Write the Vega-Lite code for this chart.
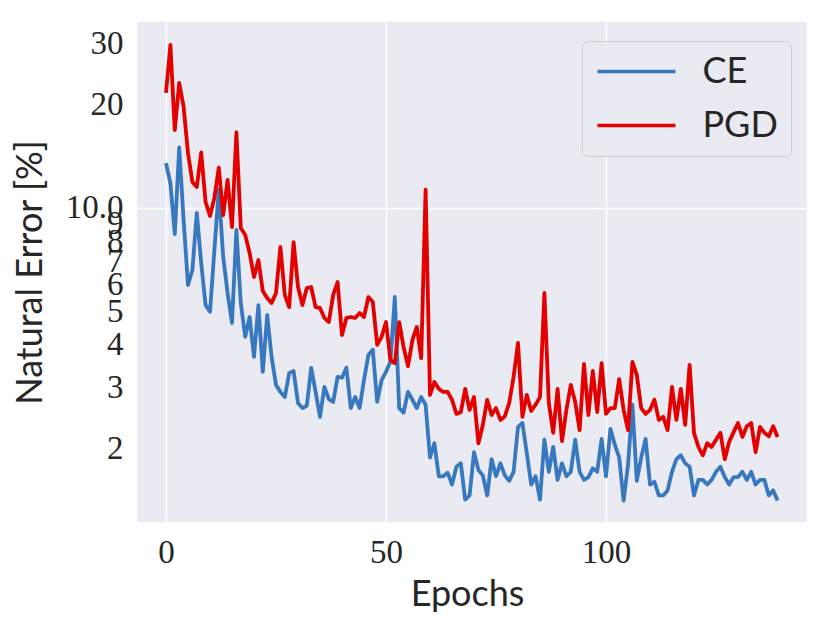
{
  "$schema": "https://vega.github.io/schema/vega-lite/v6.json",
  "width": 670,
  "height": 500,
  "autosize": {"type": "none"},
  "padding": {"left": 137, "top": 22, "right": 24, "bottom": 105},
  "background": "white",
  "data": {
    "values": [
      {"epoch": 0, "CE": 13.5, "PGD": 21.6},
      {"epoch": 1, "CE": 11.8, "PGD": 29.8},
      {"epoch": 2, "CE": 8.4, "PGD": 16.85},
      {"epoch": 3, "CE": 15.0, "PGD": 23.1},
      {"epoch": 4, "CE": 9.23, "PGD": 19.7},
      {"epoch": 5, "CE": 5.97, "PGD": 14.45},
      {"epoch": 6, "CE": 6.6, "PGD": 11.9},
      {"epoch": 7, "CE": 9.67, "PGD": 11.5},
      {"epoch": 8, "CE": 6.92, "PGD": 14.5},
      {"epoch": 9, "CE": 5.22, "PGD": 10.4},
      {"epoch": 10, "CE": 4.99, "PGD": 9.48},
      {"epoch": 11, "CE": 7.55, "PGD": 10.7},
      {"epoch": 12, "CE": 11.3, "PGD": 13.1},
      {"epoch": 13, "CE": 7.2, "PGD": 9.54},
      {"epoch": 14, "CE": 5.66, "PGD": 12.06},
      {"epoch": 15, "CE": 4.63, "PGD": 8.8},
      {"epoch": 16, "CE": 8.63, "PGD": 16.6},
      {"epoch": 17, "CE": 5.29, "PGD": 8.75},
      {"epoch": 18, "CE": 4.22, "PGD": 8.35},
      {"epoch": 19, "CE": 4.82, "PGD": 7.4},
      {"epoch": 20, "CE": 3.69, "PGD": 6.3},
      {"epoch": 21, "CE": 5.22, "PGD": 7.06},
      {"epoch": 22, "CE": 3.34, "PGD": 5.74},
      {"epoch": 23, "CE": 4.89, "PGD": 5.47},
      {"epoch": 24, "CE": 3.69, "PGD": 5.29},
      {"epoch": 25, "CE": 3.06, "PGD": 5.66},
      {"epoch": 26, "CE": 2.92, "PGD": 7.7},
      {"epoch": 27, "CE": 2.82, "PGD": 5.59},
      {"epoch": 28, "CE": 3.31, "PGD": 5.15},
      {"epoch": 29, "CE": 3.36, "PGD": 7.96},
      {"epoch": 30, "CE": 2.71, "PGD": 5.89},
      {"epoch": 31, "CE": 2.62, "PGD": 5.22},
      {"epoch": 32, "CE": 2.66, "PGD": 5.85},
      {"epoch": 33, "CE": 3.43, "PGD": 5.89},
      {"epoch": 34, "CE": 2.92, "PGD": 5.15},
      {"epoch": 35, "CE": 2.47, "PGD": 5.12},
      {"epoch": 36, "CE": 3.02, "PGD": 4.79},
      {"epoch": 37, "CE": 2.78, "PGD": 4.66},
      {"epoch": 38, "CE": 2.73, "PGD": 5.59},
      {"epoch": 39, "CE": 3.23, "PGD": 6.09},
      {"epoch": 40, "CE": 3.21, "PGD": 4.27},
      {"epoch": 41, "CE": 3.43, "PGD": 4.79},
      {"epoch": 42, "CE": 2.62, "PGD": 4.82},
      {"epoch": 43, "CE": 2.82, "PGD": 4.79},
      {"epoch": 44, "CE": 2.62, "PGD": 4.95},
      {"epoch": 45, "CE": 3.16, "PGD": 4.82},
      {"epoch": 46, "CE": 3.74, "PGD": 5.51},
      {"epoch": 47, "CE": 3.87, "PGD": 5.33},
      {"epoch": 48, "CE": 2.73, "PGD": 4.0},
      {"epoch": 49, "CE": 3.16, "PGD": 4.22},
      {"epoch": 50, "CE": 3.34, "PGD": 4.66},
      {"epoch": 51, "CE": 3.57, "PGD": 3.61},
      {"epoch": 52, "CE": 5.51, "PGD": 3.54},
      {"epoch": 53, "CE": 2.62, "PGD": 4.66},
      {"epoch": 54, "CE": 2.54, "PGD": 3.94},
      {"epoch": 55, "CE": 2.92, "PGD": 3.47},
      {"epoch": 56, "CE": 2.77, "PGD": 4.13},
      {"epoch": 57, "CE": 2.62, "PGD": 4.51},
      {"epoch": 58, "CE": 2.82, "PGD": 3.66},
      {"epoch": 59, "CE": 2.68, "PGD": 11.3},
      {"epoch": 60, "CE": 1.88, "PGD": 2.86},
      {"epoch": 61, "CE": 2.07, "PGD": 3.12},
      {"epoch": 62, "CE": 1.66, "PGD": 2.98},
      {"epoch": 63, "CE": 1.66, "PGD": 2.92},
      {"epoch": 64, "CE": 1.7, "PGD": 2.92},
      {"epoch": 65, "CE": 1.57, "PGD": 2.77},
      {"epoch": 66, "CE": 1.77, "PGD": 2.52},
      {"epoch": 67, "CE": 1.81, "PGD": 2.55},
      {"epoch": 68, "CE": 1.42, "PGD": 2.98},
      {"epoch": 69, "CE": 1.46, "PGD": 2.59},
      {"epoch": 70, "CE": 1.95, "PGD": 2.82},
      {"epoch": 71, "CE": 1.73, "PGD": 2.07},
      {"epoch": 72, "CE": 1.67, "PGD": 2.34},
      {"epoch": 73, "CE": 1.46, "PGD": 2.77},
      {"epoch": 74, "CE": 1.86, "PGD": 2.5},
      {"epoch": 75, "CE": 1.66, "PGD": 2.62},
      {"epoch": 76, "CE": 1.81, "PGD": 2.42},
      {"epoch": 77, "CE": 1.67, "PGD": 2.48},
      {"epoch": 78, "CE": 1.61, "PGD": 2.71},
      {"epoch": 79, "CE": 1.71, "PGD": 3.23},
      {"epoch": 80, "CE": 2.31, "PGD": 4.05},
      {"epoch": 81, "CE": 2.37, "PGD": 2.47},
      {"epoch": 82, "CE": 1.94, "PGD": 2.86},
      {"epoch": 83, "CE": 1.57, "PGD": 2.57},
      {"epoch": 84, "CE": 1.66, "PGD": 2.68},
      {"epoch": 85, "CE": 1.42, "PGD": 2.82},
      {"epoch": 86, "CE": 2.12, "PGD": 5.66},
      {"epoch": 87, "CE": 1.71, "PGD": 2.71},
      {"epoch": 88, "CE": 2.02, "PGD": 2.22},
      {"epoch": 89, "CE": 1.62, "PGD": 2.98},
      {"epoch": 90, "CE": 1.81, "PGD": 2.1},
      {"epoch": 91, "CE": 1.66, "PGD": 2.59},
      {"epoch": 92, "CE": 1.71, "PGD": 3.06},
      {"epoch": 93, "CE": 2.12, "PGD": 2.73},
      {"epoch": 94, "CE": 1.71, "PGD": 2.26},
      {"epoch": 95, "CE": 1.62, "PGD": 3.52},
      {"epoch": 96, "CE": 1.65, "PGD": 2.5},
      {"epoch": 97, "CE": 1.75, "PGD": 3.36},
      {"epoch": 98, "CE": 1.71, "PGD": 2.55},
      {"epoch": 99, "CE": 2.13, "PGD": 3.54},
      {"epoch": 100, "CE": 1.66, "PGD": 2.52},
      {"epoch": 101, "CE": 2.28, "PGD": 2.62},
      {"epoch": 102, "CE": 2.05, "PGD": 2.62},
      {"epoch": 103, "CE": 1.88, "PGD": 3.18},
      {"epoch": 104, "CE": 1.41, "PGD": 2.59},
      {"epoch": 105, "CE": 1.79, "PGD": 2.26},
      {"epoch": 106, "CE": 2.68, "PGD": 3.57},
      {"epoch": 107, "CE": 1.61, "PGD": 3.27},
      {"epoch": 108, "CE": 1.88, "PGD": 2.62},
      {"epoch": 109, "CE": 2.13, "PGD": 2.52},
      {"epoch": 110, "CE": 1.57, "PGD": 2.59},
      {"epoch": 111, "CE": 1.6, "PGD": 2.77},
      {"epoch": 112, "CE": 1.46, "PGD": 2.42},
      {"epoch": 113, "CE": 1.46, "PGD": 2.47},
      {"epoch": 114, "CE": 1.51, "PGD": 2.26},
      {"epoch": 115, "CE": 1.71, "PGD": 3.02},
      {"epoch": 116, "CE": 1.86, "PGD": 2.42},
      {"epoch": 117, "CE": 1.91, "PGD": 2.98},
      {"epoch": 118, "CE": 1.81, "PGD": 2.34},
      {"epoch": 119, "CE": 1.77, "PGD": 3.5},
      {"epoch": 120, "CE": 1.46, "PGD": 2.22},
      {"epoch": 121, "CE": 1.62, "PGD": 2.02},
      {"epoch": 122, "CE": 1.62, "PGD": 1.91},
      {"epoch": 123, "CE": 1.57, "PGD": 2.07},
      {"epoch": 124, "CE": 1.62, "PGD": 2.02},
      {"epoch": 125, "CE": 1.71, "PGD": 2.12},
      {"epoch": 126, "CE": 1.77, "PGD": 2.22},
      {"epoch": 127, "CE": 1.65, "PGD": 1.86},
      {"epoch": 128, "CE": 1.57, "PGD": 2.09},
      {"epoch": 129, "CE": 1.65, "PGD": 2.23},
      {"epoch": 130, "CE": 1.65, "PGD": 2.37},
      {"epoch": 131, "CE": 1.71, "PGD": 2.16},
      {"epoch": 132, "CE": 1.62, "PGD": 2.32},
      {"epoch": 133, "CE": 1.71, "PGD": 2.37},
      {"epoch": 134, "CE": 1.57, "PGD": 1.95},
      {"epoch": 135, "CE": 1.62, "PGD": 2.31},
      {"epoch": 136, "CE": 1.62, "PGD": 2.22},
      {"epoch": 137, "CE": 1.46, "PGD": 2.17},
      {"epoch": 138, "CE": 1.51, "PGD": 2.32},
      {"epoch": 139, "CE": 1.41, "PGD": 2.16}
    ]
  },
  "transform": [
    {"fold": ["CE", "PGD"], "as": ["method", "error"]}
  ],
  "mark": {"type": "line", "strokeWidth": 3.8, "strokeJoin": "round"},
  "encoding": {
    "x": {
      "field": "epoch",
      "type": "quantitative",
      "title": "Epochs",
      "scale": {"domain": [-6.59, 145.68], "nice": false, "zero": false},
      "axis": {"values": [0, 50, 100], "labelPadding": 14, "titlePadding": 8, "titleX": 330}
    },
    "y": {
      "field": "error",
      "type": "quantitative",
      "title": "Natural Error [%]",
      "scale": {"type": "log", "domain": [1.222, 34.73], "nice": false},
      "axis": {
        "values": [2, 3, 4, 5, 6, 7, 8, 9, 10, 20, 30],
        "labelExpr": "datum.value == 10 ? '10.0' : format(datum.value, 'd')",
        "labelOverlap": false,
        "labelPadding": 14,
        "titlePadding": 16,
        "gridOpacity": {"condition": {"test": "datum.value == 10", "value": 1}, "value": 0}
      }
    },
    "color": {
      "field": "method",
      "type": "nominal",
      "scale": {"domain": ["CE", "PGD"], "range": ["#3778bf", "#e50000"]},
      "legend": {
        "title": null,
        "orient": "none",
        "legendX": 445,
        "legendY": 19,
        "symbolType": "M-1,0H4.2",
        "symbolSize": 900,
        "symbolStrokeWidth": 3.5,
        "labelFont": "Lato",
        "labelFontSize": 36,
        "labelColor": "#262626",
        "labelOffset": 72,
        "fillColor": "#EAEAF2",
        "strokeColor": "#CCCCCC",
        "cornerRadius": 6,
        "padding": 12.5,
        "rowPadding": 18
      }
    }
  },
  "config": {
    "view": {"fill": "#EAEAF2", "stroke": null},
    "axis": {
      "domain": false,
      "ticks": false,
      "grid": true,
      "gridColor": "white",
      "gridWidth": 1.5,
      "labelFont": "Liberation Serif",
      "labelFontSize": 33,
      "labelColor": "#262626",
      "titleFont": "Lato",
      "titleFontSize": 36,
      "titleFontWeight": "normal",
      "titleColor": "#262626"
    }
  }
}
